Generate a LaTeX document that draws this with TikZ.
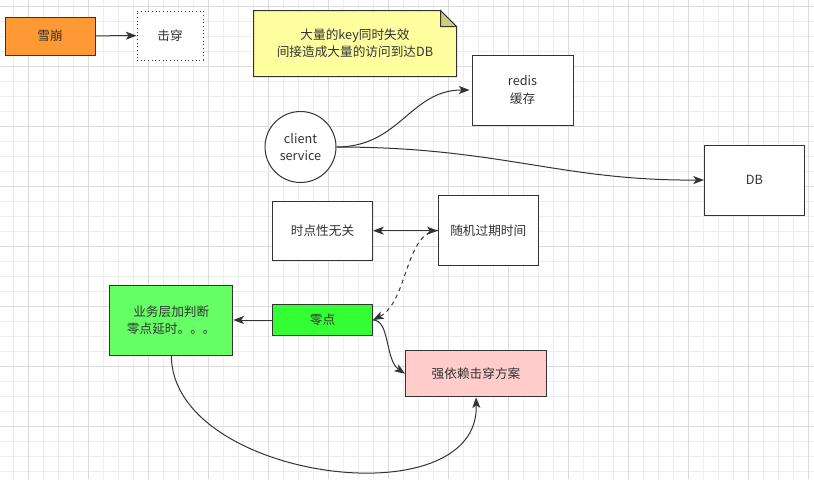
\documentclass[tikz,border=0pt]{standalone}
\usepackage{fontspec}
\setmainfont{Noto Sans CJK SC}
\usetikzlibrary{arrows.meta,calc}
\definecolor{ink}{HTML}{333333}
\definecolor{gridminor}{HTML}{EDEDED}
\definecolor{gridmajor}{HTML}{DCDCDC}
\definecolor{orangefill}{HTML}{FF9933}
\definecolor{notefill}{HTML}{FFFFA0}
\definecolor{foldfill}{HTML}{CCCC80}
\definecolor{brightgreen}{HTML}{33FF33}
\definecolor{lightgreen}{HTML}{66FF66}
\definecolor{pinkfill}{HTML}{FFCCCC}
\begin{document}
\begin{tikzpicture}[x=0.75pt,y=-0.75pt,
  sz/.style 2 args={minimum width=#1*0.75pt, minimum height=#2*0.75pt},
  box/.style={draw=ink, line width=0.75pt, text=ink, align=center, inner sep=0pt,
    font=\fontsize{9.5}{12.8}\selectfont},
  conn/.style={draw=ink, line width=0.75pt, -{Stealth[length=8pt,width=6pt,inset=2pt]}},
  gmin/.style={draw=gridminor, line width=0.75pt},
  gmaj/.style={draw=gridmajor, line width=0.75pt}]
\useasboundingbox (0,0) rectangle (814,479);
\fill[white] (0,0) rectangle (814,479);
% grid
\foreach \i in {0,...,53}{\draw[gmin] ({13.33+15*\i},0) -- ++(0,479);}
\foreach \i in {0,...,31}{\draw[gmin] (0,{6+15*\i}) -- ++(814,0);}
\foreach \i in {0,...,13}{\draw[gmaj] ({28.33+60*\i},0) -- ++(0,479);}
\foreach \i in {0,...,7}{\draw[gmaj] (0,{6+60*\i}) -- ++(814,0);}

% nodes
\node[box, fill=orangefill, sz={90}{38}] (xb) at (50,36) {雪崩};
\node[box, dotted, fill=white, sz={66}{49}] (jc) at (170,35.5) {击穿};
\node[box, draw=none, sz={202}{65}] (note) at (355,43.5) {};
\filldraw[fill=notefill, draw=ink, line width=0.75pt]
  (note.south west) -- (note.north west) -- ($(note.north east)+(-16,0)$)
  -- ($(note.north east)+(0,16)$) -- (note.south east) -- cycle;
\filldraw[fill=foldfill, draw=ink, line width=0.75pt]
  ($(note.north east)+(-16,0)$) -- ($(note.north east)+(-16,16)$) -- ($(note.north east)+(0,16)$) -- cycle;
\node[box, draw=none] at (note.center) {大量的key同时失效\\间接造成大量的访问到达DB};

\node[box, fill=white, sz={101}{70}] (redis) at (522.5,90) {redis\\缓存};
\node[box, circle, draw=ink, fill=white, minimum size=71*0.75pt] (client) at (300.5,147) {client\\service};
\node[box, fill=white, sz={100}{70}] (db) at (754.5,180) {DB};
\node[box, fill=white, sz={100}{59}] (sd) at (322.5,230.7) {时点性无关};
\node[box, fill=white, sz={100}{70}] (sj) at (488.3,230.3) {随机过期时间};
\node[box, fill=brightgreen, sz={100}{31}] (ld) at (322.5,320) {零点};
\node[box, fill=lightgreen, sz={123}{70}] (yw) at (171.3,320) {业务层加判断\\零点延时。。。};
\node[box, fill=pinkfill, sz={141}{46}] (qy) at (476,373.8) {强依赖击穿方案};

% connectors
\draw[conn] (xb) -- (jc);
\draw[conn] (client.east) .. controls (400,147) and (410,90) .. ($(redis.west)+(-2,0)$);
\draw[conn] (client.east) .. controls (500,147) and (560,181) .. (db.west);
\draw[conn, {Stealth[length=8pt,width=6pt,inset=2pt]}-{Stealth[length=8pt,width=6pt,inset=2pt]}] (sd.east) -- (sd.east -| sj.west);
\draw[conn, dashed] (sj.west) .. controls (405,232) and (408,302) .. (ld.east);
\draw[conn] (ld.east) .. controls (390,320) and (385,360) .. (qy.west);
\draw[conn] (ld.west) -- (yw.east);
\draw[conn] (yw.south) .. controls (172,480) and (480,520) .. (qy.south);
\end{tikzpicture}
\end{document}
